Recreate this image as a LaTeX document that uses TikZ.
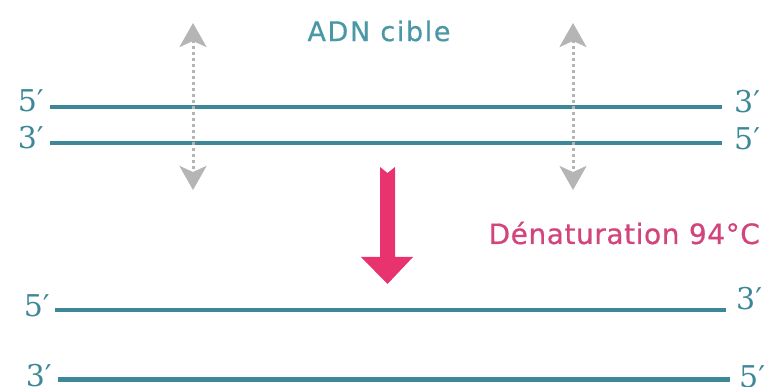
\documentclass[tikz,border=0pt]{standalone}
\usepackage{fontspec}
\usetikzlibrary{arrows.meta}
\setmainfont{DejaVu Sans}
\newfontfamily\lblfont{DejaVu Sans}[LetterSpace=6,FakeBold=0.6]
\newfontfamily\lblfontb{DejaVu Sans}[LetterSpace=2,FakeBold=0.6]
\newfontfamily\endfont{DejaVu Serif}
\definecolor{teal}{HTML}{3D8898}
\definecolor{tealtext}{HTML}{4A97A5}
\definecolor{pinkarr}{HTML}{E8336E}
\definecolor{pinktext}{HTML}{D2457C}
\definecolor{grayarr}{HTML}{B5B5B5}
\tikzset{
  strand/.style={draw=teal, line width=3.5pt},
  strandthick/.style={draw=teal, line width=5pt},
  endlbl/.style={inner sep=0pt, text=teal, font=\endfont\fontsize{30}{34}\selectfont},
  title/.style={inner sep=0pt, font=\lblfont\fontsize{27}{30}\selectfont},
  titleb/.style={inner sep=0pt, font=\lblfontb\fontsize{28}{32}\selectfont},
  dotarrow/.style={draw=grayarr, line width=3pt, dash pattern=on 3pt off 3pt,
    {Stealth[length=24pt,width=27pt,inset=6pt,fill=grayarr]}-{Stealth[length=24pt,width=27pt,inset=6pt,fill=grayarr]}},
}
\begin{document}
\begin{tikzpicture}[x=1pt,y=-1pt]
\useasboundingbox (0,0) rectangle (774,387);
% end labels
\node[endlbl, anchor=base east] (l1) at (44,112) {5′};
\node[endlbl, anchor=base east] (l2) at (44,149) {3′};
\node[endlbl, anchor=base west] (r1) at (734,113) {3′};
\node[endlbl, anchor=base west] (r2) at (734,150) {5′};
\node[endlbl, anchor=base east] (l3) at (50,317) {5′};
\node[endlbl, anchor=base east] (l4) at (52,387) {3′};
\node[endlbl, anchor=base west] (r3) at (736,310) {3′};
\node[endlbl, anchor=base west] (r4) at (739,388) {5′};
% strands
\coordinate (s1a) at (50,107);  \coordinate (s1b) at (722,107);
\coordinate (s2a) at (50,143);  \coordinate (s2b) at (722,143);
\coordinate (s3a) at (55,310);  \coordinate (s3b) at (726,310);
\coordinate (s4a) at (58,379);  \coordinate (s4b) at (730,379);
\draw[strand] (s1a) -- (s1b);
\draw[strand] (s2a) -- (s2b);
\draw[strand] (s3a) -- (s3b);
\draw[strandthick] (s4a) -- (s4b);
% titles
\node[title, text=tealtext] (t1) at (379,31) {ADN cible};
\node[titleb, text=pinktext, anchor=east] (t2) at (760,233) {Dénaturation 94°C};
% dotted double arrows
\coordinate (da1) at (193,23);
\coordinate (db1) at (193,190);
\coordinate (da2) at (573,23);
\coordinate (db2) at (573,190);
\draw[dotarrow] (da1) -- (db1);
\draw[dotarrow] (da2) -- (db2);
% pink arrow
\fill[pinkarr] (380,167) -- (387.5,173) -- (395,167) -- (395,257) -- (413,257)
  -- (387.5,284) -- (361,257) -- (380,257) -- cycle;
\end{tikzpicture}
\end{document}
